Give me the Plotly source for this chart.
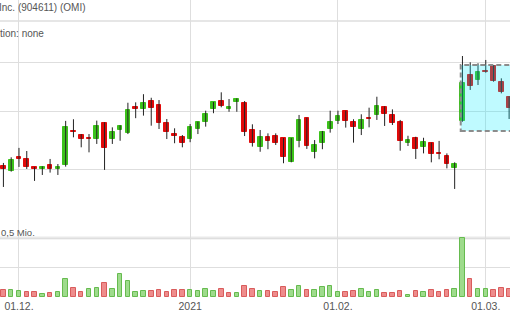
import plotly.graph_objects as go

# ---------------- data ----------------
dates = [
    "2020-11-27", "2020-11-30",
    "2020-12-01", "2020-12-02", "2020-12-03", "2020-12-04", "2020-12-07", "2020-12-08",
    "2020-12-09", "2020-12-10", "2020-12-11", "2020-12-14", "2020-12-15", "2020-12-16",
    "2020-12-17", "2020-12-18", "2020-12-21", "2020-12-22", "2020-12-23", "2020-12-24",
    "2020-12-28", "2020-12-29", "2020-12-30", "2020-12-31",
    "2021-01-04", "2021-01-05", "2021-01-06", "2021-01-07", "2021-01-08", "2021-01-11",
    "2021-01-12", "2021-01-13", "2021-01-14", "2021-01-15", "2021-01-19", "2021-01-20",
    "2021-01-21", "2021-01-22", "2021-01-25", "2021-01-26", "2021-01-27", "2021-01-28",
    "2021-01-29",
    "2021-02-01", "2021-02-02", "2021-02-03", "2021-02-04", "2021-02-05", "2021-02-08",
    "2021-02-09", "2021-02-10", "2021-02-11", "2021-02-12", "2021-02-16", "2021-02-17",
    "2021-02-18", "2021-02-19", "2021-02-22", "2021-02-23", "2021-02-24", "2021-02-25",
    "2021-02-26",
    "2021-03-01", "2021-03-02", "2021-03-03", "2021-03-04",
]

opens = [22.22, 21.90, 22.78, 22.67, 22.13, 22.00, 22.28, 22.00, 22.28, 24.59,
         24.30, 24.07, 24.02, 25.14, 24.02, 24.66, 24.42, 26.34, 26.21, 26.82,
         26.52, 25.14, 24.37, 24.18, 24.00, 24.73, 25.26, 26.21, 26.82, 26.21,
         26.77, 26.69, 24.66, 23.50, 24.18, 24.23, 24.07, 22.49, 23.89, 25.52,
         23.15, 23.77, 24.73, 25.34, 26.06, 25.22, 24.73, 25.57, 25.76, 26.39,
         25.76, 25.22, 23.77, 24.07, 23.50, 23.73, 23.08, 22.88, 22.10, 25.32,
         28.93, 28.51, 29.26, 29.72, 28.32, 27.16]
highs = [22.41, 22.78, 23.41, 23.20, 22.15, 22.19, 22.67, 22.34, 25.32, 25.44,
         24.37, 24.37, 25.34, 25.22, 24.85, 25.00, 26.69, 26.72, 27.36, 27.08,
         26.90, 25.46, 24.78, 24.30, 25.09, 25.26, 26.08, 26.75, 27.51, 26.98,
         27.03, 26.82, 25.07, 24.66, 24.42, 24.42, 24.09, 24.09, 25.76, 25.55,
         23.95, 24.59, 26.08, 26.08, 26.08, 25.44, 25.81, 26.31, 27.16, 26.41,
         26.18, 25.39, 24.25, 24.18, 24.11, 23.77, 23.89, 23.04, 22.45, 30.57,
         30.02, 29.93, 30.22, 29.78, 28.65, 27.18]
lows = [20.90, 21.85, 22.15, 22.02, 21.27, 21.64, 21.79, 21.64, 22.17, 24.14,
        23.45, 23.11, 23.68, 21.96, 23.68, 23.90, 24.37, 25.52, 25.71, 24.97,
        24.73, 24.02, 23.73, 23.45, 23.80, 24.37, 24.90, 25.89, 26.34, 26.00,
        26.00, 24.23, 23.50, 23.15, 23.32, 23.61, 22.39, 22.45, 23.45, 23.34,
        22.71, 23.32, 24.47, 25.09, 24.83, 23.77, 24.30, 24.85, 25.39, 24.95,
        25.02, 23.22, 23.54, 22.67, 23.04, 22.45, 22.65, 22.06, 20.78, 25.26,
        27.70, 28.10, 29.12, 28.37, 27.43, 25.46]
closes = [22.02, 22.60, 22.68, 22.15, 22.00, 22.17, 22.02, 22.17, 24.85, 24.50,
          24.02, 24.00, 24.97, 23.39, 24.52, 24.93, 26.11, 26.21, 26.67, 26.26,
          25.14, 24.54, 24.23, 23.73, 24.85, 25.22, 25.83, 26.75, 26.44, 26.39,
          26.95, 24.54, 23.77, 24.18, 23.89, 23.77, 22.78, 24.07, 25.39, 23.56,
          23.61, 24.54, 25.26, 25.71, 25.32, 24.90, 25.39, 25.49, 26.46, 25.81,
          25.14, 23.90, 23.95, 23.34, 23.80, 23.00, 22.98, 22.34, 22.34, 28.24,
          28.04, 29.21, 29.18, 28.43, 27.51, 26.26]

volumes = [56500, 56500, 50800, 39500, 39500, 28200, 33900, 39500, 149700, 79100,
           45200, 65000, 79100, 118600, 70600, 192100, 135600, 45200, 48000, 50800,
           56500, 39500, 56500, 59300, 59300, 48000, 65000, 48000, 70600, 36700,
           36700, 93200, 65000, 50800, 50800, 42400, 81900, 62100, 93200, 56500,
           56500, 84800, 93200, 42400, 42400, 48000, 65000, 42400, 56500, 36700,
           33900, 48000, 19700, 48000, 39500, 56500, 42400, 56500, 65000, 500000,
           155400, 67800, 65000, 56500, 73500, 67800]
# 1 = volume bar drawn green (close above previous close), 0 = red
volume_up = [0, 1, 1, 0, 0, 1, 0, 1, 1, 0,
             0, 1, 1, 0, 1, 1, 1, 1, 1, 0,
             0, 0, 0, 0, 1, 1, 1, 1, 0, 0,
             1, 0, 0, 1, 0, 0, 0, 1, 1, 0,
             1, 1, 1, 1, 0, 0, 1, 1, 1, 0,
             0, 0, 1, 0, 1, 0, 0, 0, 1, 1,
             0, 1, 1, 0, 0, 0]

tick_dates = ["2020-12-01", "2021-01-04", "2021-02-01", "2021-03-01"]
tick_labels = ["01.12.", "2021", "01.02.", "01.03."]
price_grid = [22, 26, 30]
volume_grid = [250000, 500000]
highlight_low, highlight_high = 24.59, 29.78

# ---------------- styling ----------------
FONT = "Liberation Sans, Arial, Helvetica, sans-serif"
TXT = "#555555"
GRID = "#dedede"
GREEN = "#3cc21a"
RED = "#e10a0a"
VGREEN, VGREEN_L = "#9edb8c", "#66bb4f"
VRED, VRED_L = "#ee8c8c", "#d95c5c"

W, H = 510, 320
BOTTOM = 23
PH = H - BOTTOM  # plot-area height

# wicks
wx, wy = [], []
for d, lo, hi in zip(dates, lows, highs):
    wx += [d, d, None]
    wy += [lo, hi, None]

body_base = [min(o, c) for o, c in zip(opens, closes)]
body_size = [abs(c - o) for o, c in zip(opens, closes)]
body_col = [GREEN if c >= o else RED for o, c in zip(opens, closes)]

vol_fill = [VGREEN if u else VRED for u in volume_up]
vol_line = [VGREEN_L if u else VRED_L for u in volume_up]

fig = go.Figure()
fig.add_trace(go.Scatter(
    x=wx, y=wy, mode="lines", line=dict(color="#222222", width=1),
    hoverinfo="skip", showlegend=False, yaxis="y"))
fig.add_trace(go.Bar(
    x=dates, y=body_size, base=body_base, width=0.6,
    marker=dict(color=body_col, line=dict(color=body_col, width=1)),
    showlegend=False, yaxis="y"))
fig.add_trace(go.Bar(
    x=dates, y=volumes, width=0.58,
    marker=dict(color=vol_fill, line=dict(color=vol_line, width=1)),
    showlegend=False, yaxis="y2"))

# axis ranges
r0 = -0.44
r1 = r0 + W / 7.78
log_lo, log_hi = 1.18138, 1.55591
vol_hi = 0.5e6 * PH / 59.0

fig.update_layout(
    width=W, height=H,
    margin=dict(l=0, r=0, t=0, b=BOTTOM, pad=0),
    paper_bgcolor="white", plot_bgcolor="white",
    barmode="overlay", bargap=0,
    showlegend=False,
    font=dict(family=FONT, size=10, color=TXT),
    xaxis=dict(
        type="category", range=[r0, r1],
        tickmode="array", tickvals=tick_dates, ticktext=tick_labels,
        showgrid=True, gridcolor=GRID, gridwidth=1,
        zeroline=False, showline=False, ticks="",
        ticklabelstandoff=1,
        tickfont=dict(family=FONT, size=10.5, color=TXT),
        fixedrange=True,
    ),
    yaxis=dict(
        type="log", range=[log_lo, log_hi], domain=[0, 1],
        tickmode="array", tickvals=price_grid,
        showticklabels=False, showgrid=True, gridcolor=GRID, gridwidth=1,
        zeroline=False, showline=False, ticks="",
    ),
    yaxis2=dict(
        overlaying="y", side="right", range=[0, vol_hi],
        tickmode="array", tickvals=volume_grid,
        showticklabels=False, showgrid=True, gridcolor=GRID, gridwidth=1,
        zeroline=False, showline=False, ticks="",
    ),
)

# header separator and volume-panel band
fig.add_shape(type="line", xref="paper", yref="paper", x0=0, x1=1,
              y0=1 - 21 / PH, y1=1 - 21 / PH,
              line=dict(color="#e6e6e6", width=2), layer="below")
fig.add_shape(type="line", xref="paper", yref="y2", x0=0, x1=1,
              y0=volume_grid[1], y1=volume_grid[1],
              line=dict(color="#e9e9e9", width=3), layer="below")

# highlight box
fig.add_shape(type="rect", xref="x", yref="y",
              x0=58.78, x1=70, y0=highlight_low, y1=highlight_high,
              fillcolor="rgba(0,235,255,0.25)",
              line=dict(color="#8c8c8c", width=2, dash="5px,3px"),
              layer="above")

fig.add_annotation(text="Inc. (904611) (OMI)", xref="paper", yref="paper",
                   x=88 / W, y=1 - 8 / PH, xanchor="right", yanchor="middle",
                   showarrow=False, font=dict(family=FONT, size=10, color=TXT))
fig.add_annotation(text="tion: none", xref="paper", yref="paper",
                   x=46 / W, y=1 - 33.5 / PH, xanchor="right", yanchor="middle",
                   showarrow=False, font=dict(family=FONT, size=10, color=TXT))
fig.add_annotation(text="0,5 Mio.", xref="paper", yref="paper",
                   x=0, y=1 - 232 / PH, xanchor="left", yanchor="middle",
                   borderpad=0, showarrow=False,
                   font=dict(family=FONT, size=9.5, color=TXT))

fig.write_html("out.html", config={"displayModeBar": False})
